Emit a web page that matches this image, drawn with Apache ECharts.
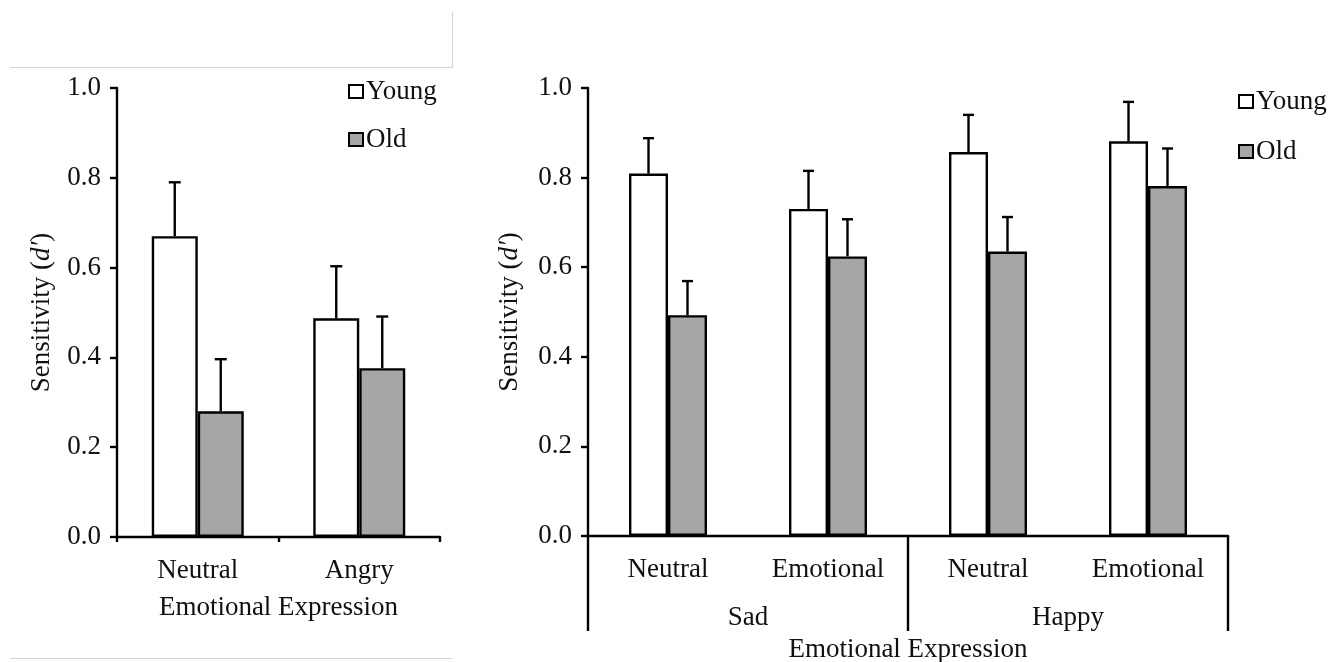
<!DOCTYPE html>
<html>
<head>
<meta charset="utf-8">
<script src="https://cdn.jsdelivr.net/npm/echarts@6/dist/echarts.min.js"></script>
<style>
html,body{margin:0;padding:0;background:#fff;}
#chart{width:1331px;height:662px;}
</style>
</head>
<body>
<div id="chart"></div>
<script>
// ---- Data ----
const leftCategories = ['Neutral', 'Angry'];
const leftYoung = [0.67, 0.487];
const leftYoungSE = [0.12, 0.116];
const leftOld = [0.28, 0.376];
const leftOldSE = [0.116, 0.115];

const rightCategories = ['Neutral', 'Emotional', 'Neutral', 'Emotional'];
const rightGroups = ['Sad', 'Happy'];
const rightYoung = [0.809, 0.730, 0.857, 0.881];
const rightYoungSE = [0.079, 0.085, 0.083, 0.088];
const rightOld = [0.493, 0.624, 0.635, 0.781];
const rightOldSE = [0.076, 0.083, 0.077, 0.084];

const yTicks = [0, 0.2, 0.4, 0.6, 0.8, 1.0];
const seriesNames = ['Young', 'Old'];
const xTitle = 'Emotional Expression';

// ---- Styles ----
const FONT = '"Liberation Serif", "Times New Roman", serif';
const TXT = '#111';
const FS = 27;
const youngColor = '#ffffff';
const oldColor = '#a6a6a6';
const LW = 2.4;

const chart = echarts.init(document.getElementById('chart'));

function errData(vals, se) {
  return vals.map((v, i) => [i, v, v + se[i]]);
}
function errSeries(name, xIdx, yIdx, data, offset, cap) {
  return {
    type: 'custom', name: name + ' err', xAxisIndex: xIdx, yAxisIndex: yIdx, z: 5,
    silent: true,
    renderItem: function (params, api) {
      const base = api.coord([api.value(0), api.value(1)]);
      const top = api.coord([api.value(0), api.value(2)]);
      const x = base[0] + offset;
      return {
        type: 'group',
        children: [
          { type: 'line', shape: { x1: x, y1: base[1], x2: x, y2: top[1] }, style: { stroke: '#000', lineWidth: LW } },
          { type: 'line', shape: { x1: x - cap / 2, y1: top[1], x2: x + cap / 2, y2: top[1] }, style: { stroke: '#000', lineWidth: LW } }
        ]
      };
    },
    data: data
  };
}

const yAxisCommon = {
  type: 'value', min: 0, max: 1, interval: 0.2,
  splitLine: { show: false },
  axisLine: { show: true, lineStyle: { color: '#000', width: LW } },
  axisTick: { show: true, length: 7, lineStyle: { color: '#000', width: LW } },
  axisLabel: { color: TXT, fontFamily: FONT, fontSize: FS, margin: 16, formatter: v => v.toFixed(1) },
  nameLocation: 'middle', nameRotate: 90,
  nameTextStyle: { color: TXT, fontFamily: FONT, fontSize: FS,
    rich: { i: { fontStyle: 'italic', color: TXT, fontFamily: FONT, fontSize: FS } } },
  name: 'Sensitivity ({i|d′})'
};

const LBW = 46, RBW = 39;
const legendCommon = {
  data: seriesNames, orient: 'vertical', itemWidth: 14, itemHeight: 13,
  icon: 'rect', itemStyle: { borderColor: '#000', borderWidth: 2 },
  textStyle: { color: TXT, fontFamily: FONT, fontSize: FS, padding: [0, 0, 0, -2] }, selectedMode: false
};

const option = {
  backgroundColor: '#fff',
  animation: false,
  textStyle: { fontFamily: FONT, color: TXT },
  grid: [
    { left: 117, top: 88, width: 323, height: 449, outerBoundsMode: 'none', containLabel: false },
    { left: 588, top: 88, width: 640, height: 448, outerBoundsMode: 'none', containLabel: false }
  ],
  legend: [
    Object.assign({}, legendCommon, { left: 343, top: 73, itemGap: 21 }),
    Object.assign({}, legendCommon, { left: 1233, top: 83, itemGap: 23 })
  ],
  xAxis: [
    { type: 'category', gridIndex: 0, data: leftCategories,
      axisLine: { lineStyle: { color: '#000', width: LW } },
      axisTick: { show: true, length: 5, interval: 0, lineStyle: { color: '#000', width: LW } },
      axisLabel: { color: TXT, fontFamily: FONT, fontSize: FS, margin: 20, interval: 0 },
      name: xTitle, nameLocation: 'middle', nameGap: 57,
      nameTextStyle: { color: TXT, fontFamily: FONT, fontSize: FS } },
    { type: 'category', gridIndex: 1, data: rightCategories,
      axisLine: { lineStyle: { color: '#000', width: LW } },
      axisTick: { show: false },
      axisLabel: { color: TXT, fontFamily: FONT, fontSize: FS, margin: 20, interval: 0 } },
    { type: 'category', gridIndex: 1, data: rightGroups, position: 'bottom',
      axisLine: { show: false },
      axisTick: { show: true, length: 95, interval: 0, lineStyle: { color: '#000', width: LW } },
      axisLabel: { color: TXT, fontFamily: FONT, fontSize: FS, margin: 68, interval: 0 },
      name: xTitle, nameLocation: 'middle', nameGap: 100,
      nameTextStyle: { color: TXT, fontFamily: FONT, fontSize: FS } }
  ],
  yAxis: [
    Object.assign({}, yAxisCommon, { gridIndex: 0, nameGap: 62 }),
    Object.assign({}, yAxisCommon, { gridIndex: 1, nameGap: 65 })
  ],
  series: [
    { type: 'bar', name: 'Young', xAxisIndex: 0, yAxisIndex: 0, data: leftYoung, barWidth: LBW, barGap: 0,
      itemStyle: { color: youngColor, borderColor: '#000', borderWidth: LW } },
    { type: 'bar', name: 'Old', xAxisIndex: 0, yAxisIndex: 0, data: leftOld, barWidth: LBW, barGap: 0,
      itemStyle: { color: oldColor, borderColor: '#000', borderWidth: LW } },
    { type: 'bar', name: 'Young', xAxisIndex: 1, yAxisIndex: 1, data: rightYoung, barWidth: RBW, barGap: 0,
      itemStyle: { color: youngColor, borderColor: '#000', borderWidth: LW } },
    { type: 'bar', name: 'Old', xAxisIndex: 1, yAxisIndex: 1, data: rightOld, barWidth: RBW, barGap: 0,
      itemStyle: { color: oldColor, borderColor: '#000', borderWidth: LW } },
    errSeries('Young L', 0, 0, errData(leftYoung, leftYoungSE), -LBW / 2, 12),
    errSeries('Old L', 0, 0, errData(leftOld, leftOldSE), LBW / 2, 12),
    errSeries('Young R', 1, 1, errData(rightYoung, rightYoungSE), -RBW / 2, 11),
    errSeries('Old R', 1, 1, errData(rightOld, rightOldSE), RBW / 2, 11)
  ],
  graphic: [
    { type: 'line', shape: { x1: 10, y1: 67.5, x2: 452, y2: 67.5 }, style: { stroke: '#d4d4d4', lineWidth: 1 }, silent: true },
    { type: 'line', shape: { x1: 452.5, y1: 12, x2: 452.5, y2: 68 }, style: { stroke: '#d4d4d4', lineWidth: 1 }, silent: true },
    { type: 'line', shape: { x1: 10, y1: 658.5, x2: 452, y2: 658.5 }, style: { stroke: '#d4d4d4', lineWidth: 1 }, silent: true }
  ]
};
chart.setOption(option);
</script>
</body>
</html>
